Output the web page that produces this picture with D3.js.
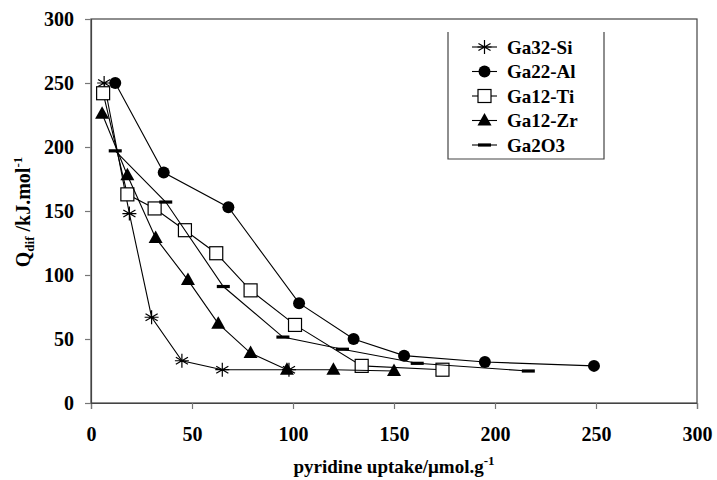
<!DOCTYPE html>
<html>
<head>
<meta charset="utf-8">
<script src="https://cdn.jsdelivr.net/npm/d3@7"></script>
<style>
  html, body { margin: 0; padding: 0; background: #fff; }
  svg { display: block; }
</style>
</head>
<body>
<script>
// Differential heat of pyridine adsorption vs. uptake
const seriesNames = ["Ga32-Si", "Ga22-Al", "Ga12-Ti", "Ga12-Zr", "Ga2O3"];
const markerKinds = ["asterisk", "circle", "square", "triangle", "dash"];

const ga32Si = [[6.5, 250], [19, 148], [30, 67], [45, 33], [65, 26], [98, 26]];
const ga22Al = [[12, 250], [36, 180], [68, 153], [103, 78], [130, 50], [155, 37], [195, 32], [249, 29]];
const ga12Ti = [[6, 242], [18, 163], [31.5, 152], [46.5, 135], [62, 117], [79, 88], [101, 61], [134, 29], [174, 26]];
const ga12Zr = [[5.5, 226], [18, 178], [32, 129], [48, 96], [63, 62], [79, 39], [97, 26], [120, 26], [150, 25]];
const ga2O3 = [[12, 197], [37, 157], [65.5, 91], [95, 51.5], [124.5, 42], [161.5, 31], [216.5, 25]];

const seriesData = [ga32Si, ga22Al, ga12Ti, ga12Zr, ga2O3];

const xTicks = [0, 50, 100, 150, 200, 250, 300];
const yTicks = [0, 50, 100, 150, 200, 250, 300];

const FONT = "Liberation Serif";
const W = 717, H = 480;
const margin = { left: 91, right: 20, top: 19, bottom: 77 };

const svg = d3.select("body").append("svg").attr("width", W).attr("height", H);

const x = d3.scaleLinear().domain([0, 300]).range([margin.left, W - margin.right]);
const y = d3.scaleLinear().domain([0, 300]).range([H - margin.bottom, margin.top]);

const axisColor = "#444";

// plot frame
svg.append("rect")
  .attr("x", x(0)).attr("y", y(300))
  .attr("width", x(300) - x(0)).attr("height", y(0) - y(300))
  .attr("fill", "none").attr("stroke", axisColor).attr("stroke-width", 1.2);

function styleAxis(g) {
  g.attr("font-family", FONT).attr("font-weight", "bold").attr("font-size", 20);
  g.select(".domain").attr("stroke", axisColor).attr("stroke-width", 1.2);
  g.selectAll(".tick line").attr("stroke", "#777").attr("stroke-width", 1.2);
  g.selectAll(".tick text").attr("font-family", FONT).attr("font-weight", "bold")
    .attr("font-size", 20).attr("fill", "#000");
}

// x axis
svg.append("g")
  .attr("transform", `translate(0,${y(0)})`)
  .call(d3.axisBottom(x).tickValues(xTicks).tickSize(6).tickPadding(18).tickFormat(d3.format("d")))
  .call(styleAxis);

// y axis
svg.append("g")
  .attr("transform", `translate(${x(0)},0)`)
  .call(d3.axisLeft(y).tickValues(yTicks).tickSize(6).tickPadding(11).tickFormat(d3.format("d")))
  .call(styleAxis);

// axis titles
const xt = svg.append("text")
  .attr("x", 394).attr("y", 473)
  .attr("font-family", FONT).attr("font-weight", "bold")
  .attr("text-anchor", "middle").attr("font-size", 19);
xt.append("tspan").text("pyridine uptake/μmol.g");
xt.append("tspan").attr("font-size", 13).attr("dy", -8).text("-1");

const yt = svg.append("text")
  .attr("transform", "translate(30,212) rotate(-90)")
  .attr("font-family", FONT).attr("font-weight", "bold")
  .attr("text-anchor", "middle").attr("font-size", 20);
yt.append("tspan").text("Q");
yt.append("tspan").attr("font-size", 13).attr("dy", 4).text("dif");
yt.append("tspan").attr("dy", -4).text(" /kJ.mol");
yt.append("tspan").attr("font-size", 13).attr("dy", -8).text("-1");

// marker drawing
function drawMarker(g, kind, cx, cy) {
  if (kind === "circle") {
    g.append("circle").attr("cx", cx).attr("cy", cy).attr("r", 6).attr("fill", "#000");
  } else if (kind === "square") {
    g.append("rect").attr("x", cx - 6.5).attr("y", cy - 6.5).attr("width", 13).attr("height", 13)
      .attr("fill", "#fff").attr("stroke", "#000").attr("stroke-width", 1.2);
  } else if (kind === "triangle") {
    g.append("path").attr("d", `M${cx},${cy - 7.5}L${cx + 7},${cy + 5}L${cx - 7},${cy + 5}Z`).attr("fill", "#000");
  } else if (kind === "dash") {
    g.append("rect").attr("x", cx - 6.5).attr("y", cy - 1.6).attr("width", 13).attr("height", 3.2).attr("fill", "#000");
  } else if (kind === "asterisk") {
    const r = 7;
    const p = [];
    for (let i = 0; i < 3; i++) {
      const a = Math.PI / 2 + i * Math.PI / 3;
      p.push(`M${cx + r * Math.cos(a)},${cy + r * Math.sin(a)}L${cx - r * Math.cos(a)},${cy - r * Math.sin(a)}`);
    }
    p.push(`M${cx - r},${cy}L${cx + r},${cy}`);
    g.append("path").attr("d", p.join("")).attr("stroke", "#000").attr("stroke-width", 1.2).attr("fill", "none");
  }
}

const line = d3.line().x(d => x(d[0])).y(d => y(d[1]));

seriesData.forEach((data, i) => {
  const g = svg.append("g");
  g.append("path").datum(data).attr("d", line)
    .attr("fill", "none").attr("stroke", "#000").attr("stroke-width", 1.1);
  data.forEach(d => drawMarker(g, markerKinds[i], x(d[0]), y(d[1])));
});

// legend (open at the top edge)
const lg = svg.append("g");
const lx0 = 448, lx1 = 604, ly0 = 32, ly1 = 159;
lg.append("path")
  .attr("d", `M${lx0},${ly0}L${lx0},${ly1}L${lx1},${ly1}L${lx1},${ly0}`)
  .attr("fill", "none").attr("stroke", axisColor).attr("stroke-width", 1.2);
seriesNames.forEach((name, i) => {
  const cy = 47 + i * 24.5;
  lg.append("line").attr("x1", 472).attr("x2", 497).attr("y1", cy).attr("y2", cy)
    .attr("stroke", "#000").attr("stroke-width", 1.1);
  drawMarker(lg, markerKinds[i], 484.5, cy);
  lg.append("text").attr("x", 507).attr("y", cy + 6.5)
    .attr("font-family", FONT).attr("font-weight", "bold").attr("font-size", 19).text(name);
});
</script>
</body>
</html>
